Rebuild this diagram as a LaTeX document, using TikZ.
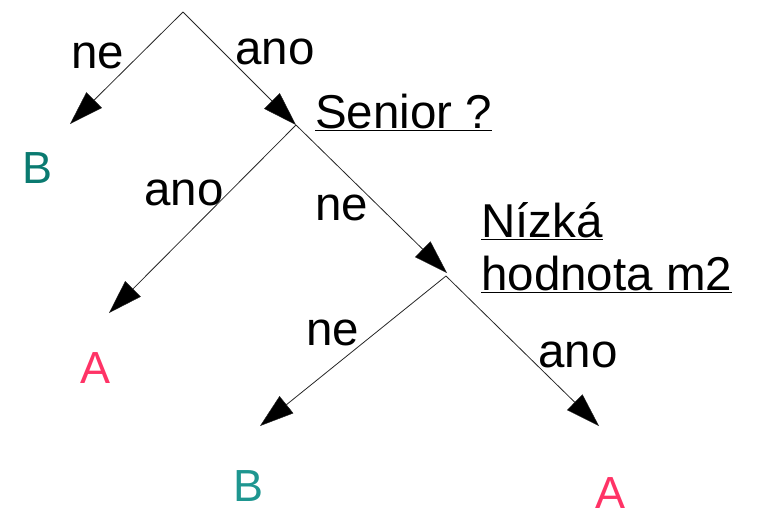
\documentclass[tikz,border=0pt]{standalone}
\usepackage{fontspec}
\setmainfont{Liberation Sans}
\usetikzlibrary{arrows.meta}
\definecolor{tealdark}{HTML}{0A7A70}
\definecolor{teallight}{HTML}{1E9690}
\definecolor{pinkA}{HTML}{FF3366}
\tikzset{
  branch/.style={draw=black!85, line width=0.8pt,
    -{Triangle[length=34pt,width=22pt,fill=black,line width=0.4pt]}},
  edgelbl/.style={anchor=base, inner sep=0pt,
    font=\fontsize{47.5}{57}\selectfont},
  question/.style={anchor=base west, inner sep=0pt, align=left,
    font=\fontsize{47.5}{53}\selectfont},
  leaf/.style={anchor=base, inner sep=0pt,
    font=\fontsize{45}{54}\selectfont}
}
\begin{document}
\begin{tikzpicture}[x=1pt,y=-1pt]
\useasboundingbox (0,0) rectangle (757,515);

% branching points and arrow ends
\coordinate (root) at (183,12);
\coordinate (endB1) at (70,124);
\coordinate (senior) at (296,125);
\coordinate (endA1) at (109,313);
\coordinate (nizka) at (447,273);
\coordinate (split) at (446,276);
\coordinate (endB2) at (260,426);
\coordinate (endA2) at (599,426);

% branches
\draw[branch] (root) -- (endB1);
\draw[branch] (root) -- (senior);
\draw[branch] (senior) -- (endA1);
\draw[branch] (senior) -- (nizka);
\draw[branch] (split) -- (endB2);
\draw[branch] (split) -- (endA2);

% branch labels
\node[edgelbl] (l1) at (98,68) {ne};
\node[edgelbl] (l2) at (275,64) {ano};
\node[edgelbl] (l3) at (184,205) {ano};
\node[edgelbl] (l4) at (342,220) {ne};
\node[edgelbl] (l5) at (333,345) {ne};
\node[edgelbl] (l6) at (578,367) {ano};

% questions
\node[question] (q1) at (315,128) {\underline{Senior ?}};
\node[question] (q2) at (481,290) {\underline{Nízká}\\\underline{hodnota m2}};

% leaves
\node[leaf, text=tealdark] (b1) at (37.5,183) {B};
\node[leaf, text=pinkA] (a1) at (96,383) {A};
\node[leaf, text=teallight] (b2) at (249,501) {B};
\node[leaf, text=pinkA] (a2) at (610,508) {A};
\end{tikzpicture}
\end{document}
